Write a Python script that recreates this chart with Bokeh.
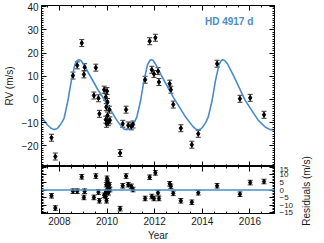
import math
from bokeh.plotting import figure
from bokeh.models import (Range1d, LinearAxis, SingleIntervalTicker, ColumnDataSource,
                          Whisker, TeeHead, Span, Label, CustomLabelingPolicy)
from bokeh.layouts import column, row
from bokeh.embed import file_html
from bokeh.resources import INLINE

# ---- data ----
obs_year = [2007.67, 2007.83, 2008.57, 2008.75, 2008.94, 2009.03, 2009.06, 2009.45, 2009.53,
            2009.64, 2009.68, 2009.88, 2009.95, 2010.00, 2010.02, 2009.97, 2010.10, 2010.02,
            2009.95, 2010.06, 2010.12, 2009.98, 2010.55, 2010.66, 2010.80, 2010.89, 2011.02,
            2011.09, 2011.60, 2011.79, 2011.88, 2012.03, 2011.97, 2012.14, 2012.18, 2012.63,
            2012.68, 2012.78, 2013.10, 2013.56, 2013.83, 2014.62, 2015.58, 2016.01, 2016.59]
rv = [-16.5, -24.6, 10.3, 14.7, 24.3, 10.8, 13.9, 1.7, 13.7,
      0.5, -6.2, 4.2, 1.0, 3.6, -1.1, -3.3, -4.4, -6.9,
      -8.7, -9.8, -9.0, -10.5, -23.1, -10.5, -4.4, -11.2, -11.6,
      -10.8, 8.5, 25.1, 12.8, 26.6, 11.0, 12.2, 7.5, 6.8,
      4.2, -2.2, -12.4, -19.5, -14.8, 15.4, 0.3, 0.7, -6.6]
resid = [-3.8, -11.9, -0.8, -0.8, 8.7, -4.9, -0.8, -4.9, 9.2,
         -1.4, -7.1, -3.5, -1.4, 7.7, 5.6, 3.5, 3.5, 0.8,
         -4.3, -1.8, 0.3, -7.1, -12.3, 2.8, 9.2, 3.5, 2.4,
         0.3, -5.6, 8.4, -4.3, 11.3, -5.6, -1.8, -5.6, 4.1,
         2.4, -2.2, -7.1, -8.1, -1.8, 2.8, -2.8, 4.9, 5.6]
rv_err = 1.5

model_year = [2007.25, 2007.5, 2007.65, 2007.78, 2007.9, 2008.0, 2008.1, 2008.2, 2008.35, 2008.5,
              2008.65, 2008.75, 2008.82, 2008.9, 2009.0, 2009.3, 2009.6, 2010.0, 2010.4, 2010.6,
              2010.72, 2010.82, 2010.95, 2011.05, 2011.15, 2011.25, 2011.4, 2011.55, 2011.7,
              2011.8, 2011.86, 2011.94, 2012.05, 2012.3, 2012.78, 2013.3, 2013.6, 2013.73,
              2013.83, 2013.95, 2014.05, 2014.15, 2014.25, 2014.4, 2014.55, 2014.7, 2014.8,
              2014.86, 2014.94, 2015.05, 2015.3, 2015.8, 2016.35, 2016.65, 2016.85, 2017.03]
model_rv = [-7.5, -11.0, -12.4, -13.0, -12.6, -11.5, -10.0, -8.0, -1.0, 8.0,
            15.0, 16.8, 17.1, 16.8, 15.5, 10.0, 4.5, -1.9, -8.8, -11.6,
            -12.8, -13.1, -12.6, -11.4, -9.8, -7.6, -1.0, 8.0, 15.0,
            16.8, 17.1, 16.8, 15.0, 10.0, 1.0, -7.6, -11.6, -12.8,
            -13.2, -12.6, -11.4, -9.8, -7.5, -1.0, 8.0, 15.0, 16.8,
            17.1, 16.8, 15.5, 10.5, -0.4, -9.0, -12.0, -13.0, -13.1]

x_lo, x_hi = 2007.25, 2017.03
FONT = "Liberation Sans"
BLUE = "#4a8cc8"
TXT = "#1a1a1a"
W_MAIN, W_SIDE = 300, 16
H_TOP, H_RES = 166, 77

def style_axis(ax, labels=True, size="10px"):
    ax.axis_line_color = "black"
    ax.major_tick_line_color = "black"
    ax.minor_tick_line_color = "black"
    ax.major_tick_in = 5
    ax.major_tick_out = 0
    ax.minor_tick_in = 2
    ax.minor_tick_out = 0
    ax.major_label_text_font = FONT
    ax.major_label_text_color = TXT
    ax.axis_label_text_font = FONT
    ax.axis_label_text_font_style = "normal"
    ax.axis_label_text_font_size = "10px"
    ax.axis_label_text_color = TXT
    if labels:
        ax.major_label_text_font_size = size
        ax.major_label_standoff = 3
    else:
        ax.major_label_text_font_size = "0px"
        ax.major_label_standoff = 0
        ax.major_label_policy = CustomLabelingPolicy(code="return 0")

src = ColumnDataSource(dict(t=obs_year, rv=rv, res=resid,
                            rv_lo=[v - rv_err for v in rv], rv_hi=[v + rv_err for v in rv],
                            res_lo=[v - rv_err for v in resid], res_hi=[v + rv_err for v in resid]))

# ---- top panel ----
p1 = figure(width=W_MAIN, height=H_TOP, x_range=Range1d(x_lo, x_hi), y_range=Range1d(-28.9, 40.5),
            output_backend="svg", toolbar_location=None, x_axis_location=None, y_axis_location=None,
            min_border_left=32, min_border_right=26, min_border_top=5, min_border_bottom=0)
p1.grid.visible = False
p1.outline_line_color = "black"
p1.background_fill_color = "white"
p1.border_fill_color = "white"

ytick = SingleIntervalTicker(interval=10, num_minor_ticks=10)
xtick = SingleIntervalTicker(interval=2, num_minor_ticks=4)
ax = LinearAxis(ticker=ytick, axis_label="RV (m/s)"); style_axis(ax); ax.axis_label_standoff = 4
p1.add_layout(ax, "left")
ax = LinearAxis(ticker=ytick); style_axis(ax, labels=False); p1.add_layout(ax, "right")
ax = LinearAxis(ticker=xtick); style_axis(ax, labels=False); p1.add_layout(ax, "above")
ax = LinearAxis(ticker=xtick); style_axis(ax, labels=False); p1.add_layout(ax, "below")

p1.line(model_year, model_rv, line_color=BLUE, line_width=1.6)
p1.add_layout(Whisker(source=src, base="t", lower="rv_lo", upper="rv_hi", line_color="#333333",
                      line_width=1,
                      lower_head=TeeHead(size=5, line_color="#333333", line_width=1),
                      upper_head=TeeHead(size=5, line_color="#333333", line_width=1)))
p1.scatter("t", "rv", source=src, marker="diamond", size=5, color="black")
p1.add_layout(Label(x=2016.14, y=33.4, text="HD 4917 d", text_align="right", text_baseline="middle",
                    text_font=FONT, text_font_style="bold", text_font_size="10px", text_color=BLUE))

# ---- residual panel ----
p2 = figure(width=W_MAIN, height=H_RES, x_range=p1.x_range, y_range=Range1d(-15.5, 15.5),
            output_backend="svg", toolbar_location=None, x_axis_location=None, y_axis_location=None,
            min_border_left=32, min_border_right=26, min_border_top=0, min_border_bottom=28)
p2.grid.visible = False
p2.outline_line_color = "black"
p2.background_fill_color = "white"
p2.border_fill_color = "white"

rtick = SingleIntervalTicker(interval=5, num_minor_ticks=5)
ax = LinearAxis(ticker=rtick); style_axis(ax, labels=False); p2.add_layout(ax, "left")
ax = LinearAxis(ticker=rtick); style_axis(ax, size="8px"); ax.major_label_standoff = 5
p2.add_layout(ax, "right")
ax = LinearAxis(ticker=xtick); style_axis(ax, labels=False); p2.add_layout(ax, "above")
ax = LinearAxis(ticker=xtick, axis_label="Year"); style_axis(ax); ax.axis_label_standoff = 2
p2.add_layout(ax, "below")

p2.add_layout(Span(location=0, dimension="width", line_color=BLUE, line_width=1.6))
p2.add_layout(Whisker(source=src, base="t", lower="res_lo", upper="res_hi", line_color="#333333",
                      line_width=1,
                      lower_head=TeeHead(size=5, line_color="#333333", line_width=1),
                      upper_head=TeeHead(size=5, line_color="#333333", line_width=1)))
p2.scatter("t", "res", source=src, marker="diamond", size=5, color="black")

# ---- side strip carrying the rotated residual-axis title ----
p3 = figure(width=W_SIDE, height=H_TOP + H_RES, x_range=Range1d(0, W_SIDE),
            y_range=Range1d(0, H_TOP + H_RES), output_backend="svg", toolbar_location=None,
            x_axis_location=None, y_axis_location=None, min_border=0)
p3.grid.visible = False
p3.outline_line_color = None
p3.background_fill_color = "white"
p3.border_fill_color = "white"
p3.add_layout(Label(x=6, y=H_RES - 24.5, text="Residuals (m/s)", angle=math.pi / 2,
                    text_align="center", text_baseline="middle", text_font=FONT,
                    text_font_size="10px", text_color=TXT))

layout = row(column(p1, p2, spacing=0), p3, spacing=0)
open("out.html", "w").write(file_html(layout, INLINE))
